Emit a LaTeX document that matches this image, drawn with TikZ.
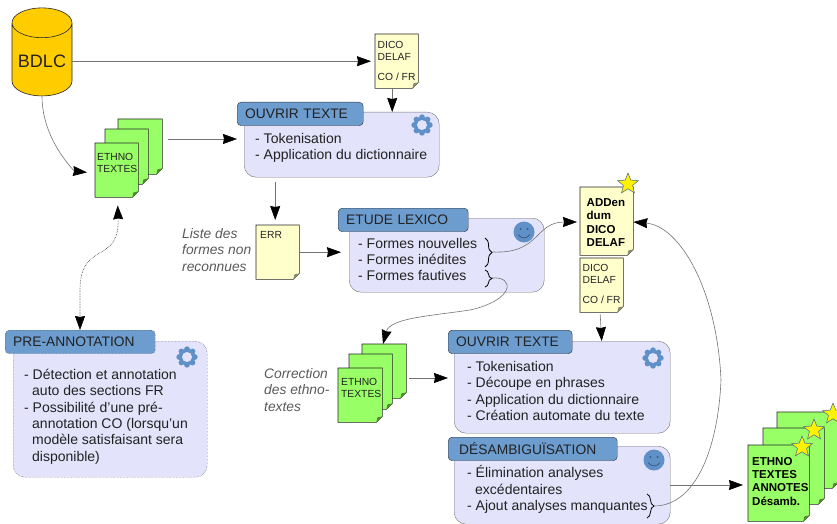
\documentclass[tikz,border=0pt]{standalone}
\usepackage{fontspec}
\setmainfont{Liberation Sans}
\usetikzlibrary{arrows.meta,calc,decorations.pathreplacing,shapes.geometric}
\definecolor{bodycol}{HTML}{E3E3FB}
\definecolor{headcol}{HTML}{6D9CCF}
\definecolor{iconcol}{HTML}{5F90C8}
\definecolor{notecol}{HTML}{FFFFCC}
\definecolor{greencol}{HTML}{99FF66}
\definecolor{dbcol}{HTML}{FFCC00}
\definecolor{inkcol}{HTML}{222222}
\newcommand{\bodyfont}{\fontsize{14}{16.3}\selectfont}
\newcommand{\sheetbox}[6]{
\node (#1) [sheet, minimum width=#4pt, minimum height=#5pt] at (#2,#3) {};
\draw [sheetline, fill=#6] (#1.north west) -- (#1.north east) -- ([yshift=6pt]#1.south east) -- ([xshift=-6pt]#1.south east) -- (#1.south west) -- cycle;
\fill [#6!55!black] ([yshift=6pt]#1.south east) -- ([xshift=-6pt]#1.south east) -- ([shift={(-5pt,5pt)}]#1.south east) -- cycle;
}
\tikzset{
  panel/.style={draw=black!55, fill=bodycol, rounded corners=12pt, anchor=north west, inner sep=0pt},
  head/.style={draw=black!80, fill=headcol, rounded corners=4pt, anchor=north west, inner xsep=8pt, inner ysep=0pt,
    minimum height=23.5pt, text width=#1, align=left, text=inkcol, font=\fontsize{13.8}{16}\selectfont},
  listing/.style={anchor=north west, inner sep=0pt, text=inkcol, font=\bodyfont},
  sheet/.style={anchor=north west, inner sep=0pt},
  sheetline/.style={draw=black!85, line width=.6pt},
  sheettext/.style={anchor=north west, inner sep=0pt, text=inkcol, font=\fontsize{10.3}{12}\selectfont},
  boldtext/.style={anchor=north west, inner sep=0pt, text=black, font=\fontsize{11.5}{13.4}\selectfont\bfseries},
  remark/.style={anchor=north west, inner sep=0pt, text=black!65, font=\fontsize{13.8}{16.3}\selectfont\itshape},
  flow/.style={draw=black!55, line width=.6pt, -{Stealth[inset=1pt,length=14pt,width=10pt,black]}},
  staricon/.style={star, star points=5, star point ratio=2.3, minimum size=22pt, inner sep=0pt, fill=yellow, draw=black!30!iconcol, line width=.5pt},
  bracket/.style={draw=black, line width=.8pt, decorate, decoration={brace,amplitude=7pt}},
  gearicon/.pic={
    \fill [iconcol] (0,0) circle (8);
    \foreach \a in {0,45,...,315} \fill [iconcol] (\a:7.8) circle (2.9);
    \fill [bodycol] (0,0) circle (5);
  },
  smileyicon/.pic={
    \fill [iconcol] (0,0) circle (10.5);
    \fill [black!45!iconcol] (-3.6,-3) circle (.9) (3.6,-3) circle (.9);
    \draw [black!45!iconcol, line width=.6pt] (-6,2.5) .. controls (-3,7) and (3,7) .. (6,2.5);
  }
}
\begin{document}
\begin{tikzpicture}[x=1pt,y=-1pt]
\useasboundingbox (0,0) rectangle (837,524);

\node (bdlc) [cylinder, shape border rotate=90, aspect=.62, minimum width=60pt, minimum height=88pt, inner sep=0pt,
  draw=black!85, fill=dbcol, line width=.6pt, font=\fontsize{18}{20}\selectfont] at (42,59.5) {\phantom{BDLC}};
\node (bdlctxt) [font=\fontsize{18}{20}\selectfont, text=inkcol, inner sep=0pt] at ([yshift=-1.5pt]bdlc.center) {BDLC};

\sheetbox{ethnoAc}{118}{119}{44}{55}{greencol}
\sheetbox{ethnoAb}{105}{129}{43}{55}{greencol}
\sheetbox{ethnoAa}{95}{143}{43}{54}{greencol}
\node (ethnoAtxt) [sheettext] at ([shift={(2pt,-9pt)}]ethnoAa.north west) {\begin{tabular}{@{}l@{}}
ETHNO \\
TEXTES
\end{tabular}};

\sheetbox{dicoA}{375}{34}{43}{54}{notecol}
\node (dicoAtxt) [sheettext] at ([shift={(2.5pt,-5.5pt)}]dicoA.north west) {\begin{tabular}{@{}l@{}}
DICO \\
DELAF \\[8pt]
CO / FR
\end{tabular}};

\node (ouvrirA) [panel, minimum width=195pt, minimum height=65pt] at (244,112) {};
\node (ouvrirAhead) [head=110pt] at (237,102) {OUVRIR TEXTE};
\node (ouvrirAlist) [listing] at (255,131.5) {\begin{tabular}{@{}l@{}}
- Tokenisation \\
- Application du dictionnaire
\end{tabular}};
\pic (gearA) at (422,125) {gearicon};

\sheetbox{err}{256}{225}{43}{54}{notecol}
\node (errtxt) [sheettext] at ([shift={(4pt,-6pt)}]err.north west) {ERR};
\node (errnote) [remark] at (182,227) {\begin{tabular}{@{}l@{}}
Liste des \\
formes non \\
reconnues
\end{tabular}};

\node (etude) [panel, minimum width=195pt, minimum height=74pt] at (349,218) {};
\node (etudehead) [head=114pt] at (338,208) {ETUDE LEXICO};
\node (etudelist) [listing] at (358,236.5) {\begin{tabular}{@{}l@{}}
- Formes nouvelles \\
- Formes inédites \\
- Formes fautives
\end{tabular}};
\pic (smileyA) at (524,232) {smileyicon};
\coordinate (braceAtop) at (485,238);
\coordinate (braceAbot) at (485,267);
\coordinate (braceBtop) at (485,270);
\coordinate (braceBbot) at (485,287);
\draw [bracket] (braceAtop) -- (braceAbot);
\draw [bracket] (braceBtop) -- (braceBbot);
\coordinate (braceAtip) at (493,252);
\coordinate (braceBtip) at (492,278);

\sheetbox{addendum}{580}{187}{53}{68}{notecol}
\node (addendumtxt) [boldtext] at ([shift={(6.5pt,-10pt)}]addendum.north west) {\begin{tabular}{@{}l@{}}
ADDen \\
dum \\
DICO \\
DELAF
\end{tabular}};
\node (stara) [staricon] at (628,184) {};

\sheetbox{dicoB}{580}{258}{43}{54}{notecol}
\node (dicoBtxt) [sheettext] at ([shift={(2.5pt,-5pt)}]dicoB.north west) {\begin{tabular}{@{}l@{}}
DICO \\
DELAF \\[8pt]
CO / FR
\end{tabular}};

\sheetbox{ethnoBc}{362}{344}{44}{54}{greencol}
\sheetbox{ethnoBb}{349}{354}{43}{55}{greencol}
\sheetbox{ethnoBa}{338}{368}{44}{54}{greencol}
\node (ethnoBtxt) [sheettext] at ([shift={(3pt,-9pt)}]ethnoBa.north west) {\begin{tabular}{@{}l@{}}
ETHNO \\
TEXTES
\end{tabular}};
\node (ethnoBnote) [remark] at (264,367) {\begin{tabular}{@{}l@{}}
Correction \\
des ethno- \\
textes
\end{tabular}};

\node (ouvrirB) [panel, minimum width=216pt, minimum height=92pt] at (454,341) {};
\node (ouvrirBhead) [head=108pt] at (448,330) {OUVRIR TEXTE};
\node (ouvrirBlist) [listing] at (467,360) {\begin{tabular}{@{}l@{}}
- Tokenisation \\
- Découpe en phrases \\
- Application du dictionnaire \\
- Création automate du texte
\end{tabular}};
\pic (gearB) at (653,358) {gearicon};

\node (desamb) [panel, minimum width=216pt, minimum height=78pt] at (454,446) {};
\node (desambhead) [head=153pt] at (448,437) {\hspace{3pt}DÉSAMBIGUÏSATION};
\node (desamblist) [listing] at (467,465.5) {\begin{tabular}{@{}l@{}}
- Élimination analyses \\
\hspace{8pt}excédentaires \\
- Ajout analyses manquantes
\end{tabular}};
\pic (smileyB) at (654,460) {smileyicon};
\coordinate (braceCtop) at (647,494);
\coordinate (braceCbot) at (647,518);
\draw [bracket] (braceCtop) -- (braceCbot);
\coordinate (braceCtip) at (654,506);

\node (preannot) [panel, densely dotted, draw=black!80, minimum width=194pt, minimum height=136pt] at (13,341) {};
\node (preannothead) [head=134pt, densely dotted] at (5,330) {PRE-ANNOTATION};
\node (preannotlist) [listing] at (24,368) {\begin{tabular}{@{}l@{}}
- Détection et annotation \\
\hspace{8pt}auto des sections FR \\
- Possibilité d'une pré- \\
\hspace{8pt}annotation CO (lorsqu'un \\
\hspace{8pt}modèle satisfaisant sera \\
\hspace{8pt}disponible)
\end{tabular}};
\pic (gearC) at (187,357) {gearicon};

\sheetbox{ethnoCc}{777}{412}{61}{76}{greencol}
\sheetbox{ethnoCb}{763}{428}{61}{76}{greencol}
\sheetbox{ethnoCa}{748}{445}{61}{76}{greencol}
\node (ethnoCtxt) [boldtext] at ([shift={(4pt,-10.5pt)}]ethnoCa.north west) {\begin{tabular}{@{}l@{}}
ETHNO \\
TEXTES \\
ANNOTES \\
Désamb.
\end{tabular}};
\node (starb) [staricon] at (833,414) {};
\node (starc) [staricon] at (814,430) {};
\node (stard) [staricon] at (802,447) {};

\draw [flow, shorten >=4pt] (bdlc.east |- dicoA.west) -- (dicoA.west);
\draw [flow] ([xshift=-4.5pt]dicoA.south) -- ([xshift=-4.5pt]dicoA.south |- ouvrirA.north);
\draw [flow, shorten >=8pt] (bdlc.south) .. controls +(0,44) and +(-20,-2) .. ([yshift=-3pt]ethnoAa.west);
\draw [flow, shorten <=6pt] (ethnoAc.east |- 0,139) -- (ouvrirAhead.west |- 0,139);
\draw [flow, shorten <=5pt, shorten >=5pt] ([xshift=-25pt]ouvrirA.south -| ouvrirAhead.north) -- ([xshift=-25pt]err.north -| ouvrirAhead.north);
\draw [flow, shorten >=8pt] (err.east) -- (etude.west |- err.east);
\draw [flow, shorten >=3pt] (braceAtip) .. controls (540,254) and (535,222) .. (addendum.west |- 0,222);
\draw [flow] (braceBtip) .. controls (515,276) and (515,300) .. (470,310) .. controls (430,316) and (390,318) .. (ethnoBc.north -| 383,0);
\draw [flow] ([xshift=-1.5pt,yshift=-2pt]dicoB.south) -- (dicoB.south |- ouvrirB.north);
\draw [flow, shorten <=3pt] (ethnoBc.east |- 0,378) -- (ouvrirBhead.west |- 0,378);
\draw [flow] (braceCtip) .. controls (695,506) and (718,450) .. (721,380) .. controls (717,290) and (680,226) .. (addendum.east |- 0,222);
\draw [flow, shorten >=5pt] (desamb.east |- 0,485) -- (ethnoCa.west |- 0,485);
\draw [flow, densely dotted, {Stealth[inset=1pt,length=14pt,width=10pt,black]}-{Stealth[inset=1pt,length=14pt,width=10pt,black]}, draw=black!80]
  ([xshift=1pt,yshift=-8pt]ethnoAa.south) .. controls +(2,60) and +(0,-50) .. (80,290) -- (preannothead.north -| 80,0);
\end{tikzpicture}
\end{document}
